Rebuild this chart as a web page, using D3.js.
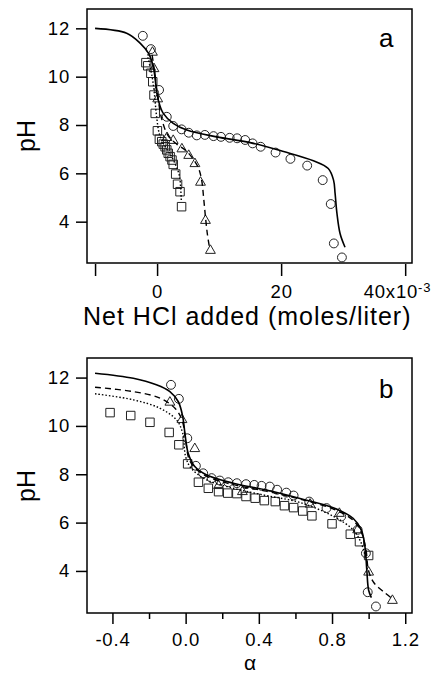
<!DOCTYPE html>
<meta charset="utf-8">
<script src="https://cdn.jsdelivr.net/npm/d3@7"></script>
<style>
  body { margin: 0; background: #fff; }
  text { font-family: "Liberation Sans", Arial, Helvetica, sans-serif; fill: #000; }
</style>
<div id="chart"></div>
<script>

// ---- panel a : pH vs net HCl added (x in 1e-3 moles/liter) ----
var circlesA = [[-2.3,11.69],[-1.0,11.14],[0.32,9.45],[1.56,8.34],[2.6,7.96],[3.95,7.82],[5.1,7.68],
  [6.4,7.57],[7.7,7.59],[9.1,7.54],[10.3,7.51],[11.7,7.47],[12.9,7.45],[14.2,7.38],[15.4,7.24],
  [16.7,7.10],[19.1,6.86],[21.5,6.6],[24.2,6.32],[26.7,5.72],[28.0,4.73],[28.5,3.10],[29.8,2.52]];
var trianglesA = [[-0.75,11.03],[-0.5,10.35],[0.1,9.1],[1.6,7.5],[2.6,7.38],[4.0,7.03],[5.1,6.76],
  [6.1,6.42],[7.0,5.65],[7.8,4.07],[8.6,2.83]];
var squaresA = [[-1.8,10.58],[-1.5,10.45],[-1.0,10.14],[-0.7,9.79],[-0.5,9.24],[-0.3,8.48],[0.05,7.76],
  [0.37,7.41],[0.75,7.31],[1.0,7.21],[1.3,7.1],[1.56,6.97],[1.8,6.83],[2.1,6.69],[2.4,6.55],
  [2.6,6.37],[3.0,5.97],[3.3,5.55],[3.7,5.24],[3.95,4.62]];
var solidA = [[-10,12.0],[-4.9,11.8],[-2.7,11.38],[-1.4,10.97],[-0.6,10.4],[-0.16,9.58],[0.2,9.03],
  [1.0,8.48],[2.6,8.07],[4.8,7.79],[9.6,7.51],[15,7.27],[20.4,6.9],[25.2,6.52],[27.6,6.2],
  [28.45,5.72],[28.7,5.17],[29.0,4.34],[29.5,3.51],[30.3,2.94]];
var dashedA = [[-0.8,10.9],[-0.4,10.2],[0.1,9.2],[0.8,8.2],[1.8,7.55],[3.2,7.2],[4.6,6.95],[5.8,6.6],
  [6.7,6.2],[7.2,5.7],[7.5,5.0],[7.8,4.2],[8.1,3.5],[8.5,2.85]];
var dottedA = [[-1.5,10.8],[-0.8,10.0],[-0.4,9.2],[-0.1,8.4],[0.4,7.6],[1.2,7.15],[2.2,6.75],
  [3.0,6.35],[3.6,5.9],[3.8,5.4],[3.9,4.9]];

// ---- panel b : pH vs alpha ----
var circlesB = [[-0.08,11.70],[-0.037,11.12],[0.009,9.49],[0.056,8.35],[0.096,8.04],[0.142,7.84],
  [0.187,7.74],[0.233,7.67],[0.28,7.63],[0.33,7.59],[0.375,7.56],[0.415,7.52],[0.46,7.49],[0.5,7.36],
  [0.55,7.24],[0.59,7.12],[0.675,6.87],[0.77,6.6],[0.85,6.25],[0.94,5.7],[0.985,4.73],[0.995,3.12],[1.04,2.53]];
var trianglesB = [[-0.086,11.0],[-0.02,10.28],[0.05,9.08],[0.18,7.55],[0.31,7.3],[0.68,6.78],
  [0.84,6.4],[0.94,5.72],[1.0,3.97],[1.13,2.8]];
var squaresB = [[-0.413,10.55],[-0.30,10.43],[-0.195,10.15],[-0.09,9.73],[-0.037,9.22],[0.011,8.43],
  [0.07,7.67],[0.124,7.42],[0.18,7.28],[0.23,7.22],[0.28,7.2],[0.33,7.08],[0.38,7.01],[0.43,6.91],
  [0.49,6.87],[0.54,6.7],[0.59,6.62],[0.64,6.48],[0.69,6.28],[0.8,5.95],[0.9,5.52],[0.95,5.21],[1.0,4.64]];
var solidB = [[-0.495,12.18],[-0.286,11.97],[-0.16,11.7],[-0.086,11.42],[-0.04,11.0],[-0.016,10.39],
  [-0.004,9.7],[0.014,8.87],[0.05,8.32],[0.115,7.97],[0.26,7.63],[0.44,7.35],[0.625,7.0],[0.81,6.6],
  [0.915,6.18],[0.96,5.7],[0.98,5.0],[0.99,4.04],[1.0,3.2],[1.015,2.9]];
var dashedB = [[-0.495,11.6],[-0.286,11.42],[-0.14,11.15],[-0.058,10.73],[-0.02,10.25],[0.0,9.42],
  [0.02,8.6],[0.06,8.2],[0.12,7.9],[0.26,7.57],[0.44,7.3],[0.625,6.97],[0.81,6.55],[0.915,6.1],
  [0.96,5.6],[0.985,4.9],[1.0,4.0],[1.03,3.5],[1.08,3.15],[1.13,2.85]];
var dottedB = [[-0.495,11.33],[-0.286,11.08],[-0.14,10.73],[-0.05,10.25],[-0.016,9.7],[0.0,8.73],
  [0.03,8.25],[0.115,7.77],[0.26,7.42],[0.44,7.12],[0.625,6.83],[0.81,6.25],[0.915,5.7],[0.96,5.15],[0.985,4.5]];

// tick values
var yTicks = [4, 6, 8, 10, 12];
var xTicksA = [-10, 0, 20, 40];
var xLabelsA = {"-10": "", "0": "0", "20": "20", "40": "40x10"};
var xMajorB = [-0.4, 0.0, 0.4, 0.8, 1.2];
var xMinorB = [-0.2, 0.2, 0.6, 1.0];

var svg = d3.select("#chart")
  .append("svg")
    .attr("width", 438)
    .attr("height", 675);

// frame edges (pixels)
var left = 87, right = 412;

var xA = d3.scaleLinear().domain([-11.3, 41.1]).range([left, right]);
var yA = d3.scaleLinear().domain([2.29, 12.8]).range([263, 9]);
var xB = d3.scaleLinear().domain([-0.539, 1.237]).range([left, right]);
var yB = d3.scaleLinear().domain([2.26, 12.81]).range([613, 358]);

function styleAxis(g) {
  g.select(".domain").remove();
  g.selectAll("line").attr("stroke", "#000").attr("stroke-width", 1.5);
  g.selectAll("text").style("font-size", "18.5px").style("letter-spacing", "0.8px")
    .attr("font-family", null);
}

function drawPanel(x, y, top, bottom, sets, lines) {
  // frame
  svg.append("rect")
    .attr("x", left).attr("y", top)
    .attr("width", right - left).attr("height", bottom - top)
    .attr("fill", "none").attr("stroke", "#000").attr("stroke-width", 1.5);

  // y axis
  svg.append("g")
    .attr("transform", "translate(" + left + ",0)")
    .call(d3.axisLeft(y).tickValues(yTicks).tickSize(11).tickPadding(6))
    .call(styleAxis);

  var line = d3.line()
    .x(function(d) { return x(d[0]); })
    .y(function(d) { return y(d[1]); })
    .curve(d3.curveCatmullRom);

  // markers
  sets.forEach(function(s) {
    svg.append("g")
      .selectAll("path")
      .data(s.data)
      .enter()
      .append("path")
        .attr("d", d3.symbol().type(s.type).size(s.size))
        .attr("transform", function(d) { return "translate(" + x(d[0]) + "," + y(d[1]) + ")"; })
        .attr("fill", "none")
        .attr("stroke", "#222")
        .attr("stroke-width", 1);
  });

  // model curves
  lines.forEach(function(l) {
    svg.append("path")
      .datum(l.data)
      .attr("d", line)
      .attr("fill", "none")
      .attr("stroke", "#000")
      .attr("stroke-width", l.w)
      .attr("stroke-dasharray", l.dash);
  });
}

var triangleUp = {
  draw: function(ctx, size) {
    var a = Math.sqrt(size * 4 / Math.sqrt(3)), h = a * Math.sqrt(3) / 2;
    ctx.moveTo(0, -h * 0.6);
    ctx.lineTo(a / 2, h * 0.4);
    ctx.lineTo(-a / 2, h * 0.4);
    ctx.closePath();
  }
};

drawPanel(xA, yA, 9, 263,
  [{data: circlesA, type: d3.symbolCircle, size: 62},
   {data: trianglesA, type: triangleUp, size: 42},
   {data: squaresA, type: d3.symbolSquare, size: 72}],
  [{data: solidA, w: 1.6, dash: null},
   {data: dashedA, w: 1.4, dash: "6,4"},
   {data: dottedA, w: 1.4, dash: "1.5,2"}]);

drawPanel(xB, yB, 358, 613,
  [{data: circlesB, type: d3.symbolCircle, size: 62},
   {data: trianglesB, type: triangleUp, size: 42},
   {data: squaresB, type: d3.symbolSquare, size: 72}],
  [{data: solidB, w: 1.6, dash: null},
   {data: dashedB, w: 1.4, dash: "6,4"},
   {data: dottedB, w: 1.4, dash: "1.5,2"}]);

// x axis, panel a
var axA = svg.append("g")
  .attr("transform", "translate(0,264)")
  .call(d3.axisBottom(xA).tickValues(xTicksA).tickSize(12).tickPadding(9)
    .tickFormat(function(d) { return xLabelsA[String(d)]; }))
  .call(styleAxis);
axA.selectAll(".tick text")
  .filter(function(d) { return d === 40; })
  .attr("text-anchor", "start").attr("x", -42)
  .append("tspan").attr("dy", "-0.45em").style("font-size", "13px").text("-3");

// x axis, panel b
svg.append("g")
  .attr("transform", "translate(0,613)")
  .call(d3.axisBottom(xB).tickValues(xMinorB).tickSize(6).tickFormat(""))
  .call(styleAxis);
svg.append("g")
  .attr("transform", "translate(0,613)")
  .call(d3.axisBottom(xB).tickValues(xMajorB).tickSize(11).tickPadding(9)
    .tickFormat(function(d) { return d.toFixed(1); }))
  .call(styleAxis);

// axis titles and panel letters
svg.append("text")
  .attr("x", 83).attr("y", 325)
  .style("font-size", "25px").style("letter-spacing", "1px")
  .text("Net HCl added (moles/liter)");

svg.append("text")
  .attr("text-anchor", "middle")
  .attr("x", 250).attr("y", 670)
  .style("font-size", "21px")
  .text("α");

[136, 486].forEach(function(cy) {
  svg.append("text")
    .attr("text-anchor", "middle")
    .attr("transform", "translate(35," + cy + ") rotate(-90)")
    .style("font-size", "25px")
    .text("pH");
});

svg.append("text").attr("x", 379).attr("y", 47).style("font-size", "26px").text("a");
svg.append("text").attr("x", 379).attr("y", 398).style("font-size", "26px").text("b");

</script>
